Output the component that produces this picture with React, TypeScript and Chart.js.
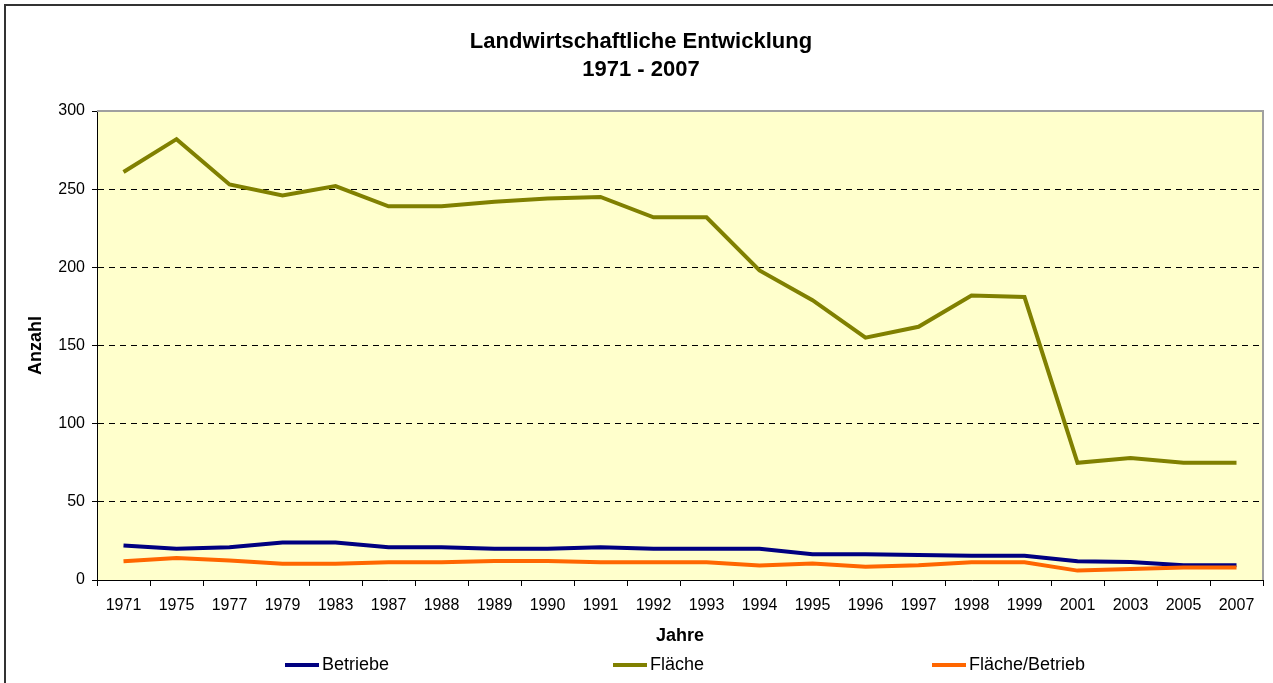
import React, { useEffect, useRef } from "react";
import { Chart, registerables } from "chart.js";

Chart.register(...registerables);

const years = ["1971","1975","1977","1979","1983","1987","1988","1989","1990","1991","1992","1993","1994","1995","1996","1997","1998","1999","2001","2003","2005","2007"];
const betriebe = [22,20,21,24,24,21,21,20,20,21,20,20,20,16.5,16.5,16,15.5,15.5,12,11.5,9.5,9.5];
const flaeche = [261,282,253,246,252,239,239,242,244,245,232,232,198,179,155,162,182,181,75,78,75,75];
const flaecheProBetrieb = [12,14,12.4,10.4,10.4,11.3,11.3,12.2,12.2,11.3,11.3,11.3,9.2,10.5,8.5,9.5,11.3,11.3,6,7,8,8];
const seriesNames = ["Betriebe", "Fläche", "Fläche/Betrieb"];
const seriesColors = ["#000080", "#808000", "#FF6600"];
const titleLines = ["Landwirtschaftliche Entwicklung", "1971 - 2007"];
const xTitle = "Jahre";
const yTitle = "Anzahl";

const FONT = "'Liberation Sans', Arial, sans-serif";

export default function App() {
  const ref = useRef<HTMLCanvasElement | null>(null);
  useEffect(() => {
    if (!ref.current) return;
    const decor = {
      id: "decor",
      beforeDraw(chart: any) {
        const { ctx, chartArea: a } = chart;
        ctx.save();
        ctx.fillStyle = "#FFFFFF";
        ctx.fillRect(0, 0, chart.width, chart.height);
        ctx.fillStyle = "#FFFFCC";
        ctx.fillRect(a.left, a.top, a.right - a.left, a.bottom - a.top);
        ctx.restore();
      },
      afterDraw(chart: any) {
        const { ctx, chartArea: a } = chart;
        ctx.save();
        // plot area top/right border
        ctx.strokeStyle = "#A0A0A0";
        ctx.lineWidth = 2;
        ctx.beginPath();
        ctx.moveTo(a.left, a.top);
        ctx.lineTo(a.right, a.top);
        ctx.lineTo(a.right, a.bottom);
        ctx.stroke();
        // outer frame
        ctx.strokeStyle = "#333333";
        ctx.lineWidth = 2;
        ctx.beginPath();
        ctx.moveTo(5, chart.height + 5);
        ctx.lineTo(5, 5);
        ctx.lineTo(chart.width + 5, 5);
        ctx.stroke();
        // title
        ctx.fillStyle = "#000";
        ctx.textAlign = "center";
        ctx.textBaseline = "middle";
        ctx.font = `bold 22px ${FONT}`;
        ctx.fillText(titleLines[0], 641, 42);
        ctx.fillText(titleLines[1], 641, 70);
        // axis titles
        ctx.font = `bold 18px ${FONT}`;
        ctx.fillText(xTitle, (a.left + a.right) / 2, 636);
        ctx.save();
        ctx.translate(36, (a.top + a.bottom) / 2);
        ctx.rotate(-Math.PI / 2);
        ctx.fillText(yTitle, 0, 0);
        ctx.restore();
        // legend
        const starts = [285, 613, 932];
        ctx.font = `18px ${FONT}`;
        ctx.textAlign = "left";
        seriesNames.forEach((n, i) => {
          ctx.strokeStyle = seriesColors[i];
          ctx.lineWidth = 4;
          ctx.beginPath();
          ctx.moveTo(starts[i], 665);
          ctx.lineTo(starts[i] + 34, 665);
          ctx.stroke();
          ctx.fillStyle = "#000";
          ctx.fillText(n, starts[i] + 37, 665);
        });
        ctx.restore();
      },
    };
    const mk = (label: string, data: number[], color: string, order: number) => ({
      label,
      data,
      borderColor: color,
      backgroundColor: color,
      borderWidth: 4,
      pointRadius: 0,
      tension: 0,
      fill: false,
      order,
    });
    const chart = new Chart(ref.current, {
      type: "line",
      data: {
        labels: years,
        datasets: [
          mk(seriesNames[0], betriebe, seriesColors[0], 3),
          mk(seriesNames[1], flaeche, seriesColors[1], 2),
          mk(seriesNames[2], flaecheProBetrieb, seriesColors[2], 1),
        ],
      },
      options: {
        animation: false,
        responsive: false,
        layout: { padding: { top: 111, right: 10, bottom: 0, left: 0 } },
        plugins: { legend: { display: false }, title: { display: false }, tooltip: { enabled: false } },
        scales: {
          x: {
            type: "category",
            offset: true,
            afterFit(s: any) { s.height = 103; },
            grid: {
              offset: true,
              drawOnChartArea: false,
              drawTicks: true,
              tickLength: 6,
              tickColor: "#000",
              tickWidth: 1,
            },
            border: { display: true, color: "#000", width: 1 },
            ticks: {
              autoSkip: false,
              maxRotation: 0,
              minRotation: 0,
              padding: 10,
              color: "#000",
              font: { family: FONT, size: 16 },
            },
          },
          y: {
            min: 0,
            max: 300,
            afterFit(s: any) { s.width = 97; },
            grid: {
              color: (c: any) => (c.tick && c.tick.value > 0 && c.tick.value < 300 ? "#000" : "rgba(0,0,0,0)"),
              lineWidth: 1,
              tickColor: "#000",
              tickLength: 5,
              tickBorderDash: [],
              drawTicks: true,
            },
            border: { display: true, color: "#000", width: 1, dash: [6, 5] },
            ticks: {
              stepSize: 50,
              padding: 7,
              color: "#000",
              font: { family: FONT, size: 16 },
            },
          },
        },
      },
      plugins: [decor],
    } as any);
    return () => chart.destroy();
  }, []);
  return (
    <div style={{ position: "absolute", left: 0, top: 0, width: 1273, height: 683 }}>
      <canvas ref={ref} width={1273} height={683} style={{ display: "block" }} />
    </div>
  );
}
